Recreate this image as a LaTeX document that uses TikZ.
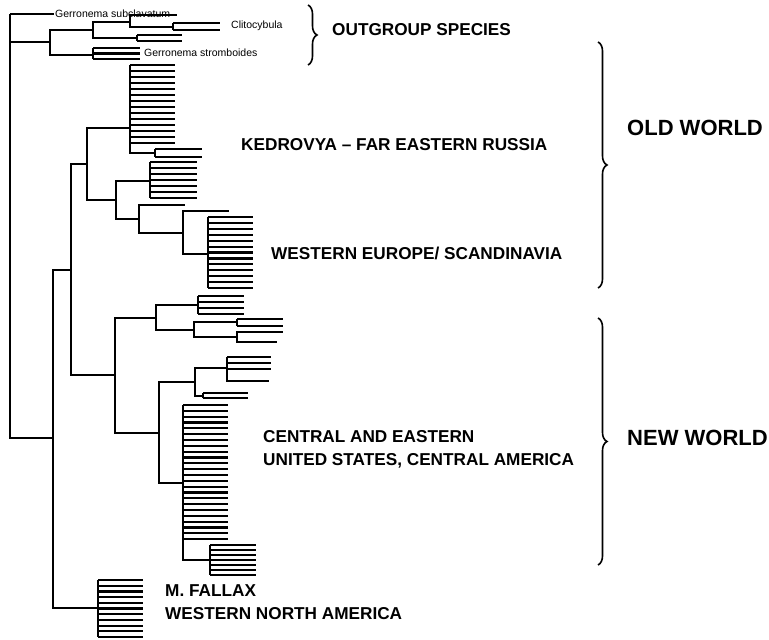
\documentclass[tikz,border=0pt]{standalone}
\usepackage{fontspec}
\setmainfont{Liberation Sans}
\usetikzlibrary{decorations.pathreplacing}

% a row of leaves hanging from one node
\newcommand{\leafrow}[5]{% node, first y, count, step, end x
  \foreach \k in {1,...,#3} {
    \pgfmathsetmacro{\yy}{#2+(\k-1)*#4}
    \draw[branch] (#1 |- 0,\yy) -- (#5,\yy);
  }
  \pgfmathsetmacro{\ylast}{#2+(#3-1)*#4}
  \draw[branch] (#1 |- 0,#2) -- (#1 |- 0,\ylast);
}

\begin{document}
\begin{tikzpicture}[x=1pt,y=-1pt,
  branch/.style={line width=2.2pt},
  taxon/.style={font=\fontsize{10.5}{12}\selectfont, anchor=west, inner sep=1pt},
  region/.style={font=\fontsize{17.2}{23}\selectfont\bfseries, anchor=west, align=left, inner sep=0pt},
  world/.style={font=\fontsize{22}{24}\selectfont\bfseries, anchor=west, inner sep=0pt},
  bracebar/.style={decorate, decoration={brace, amplitude=9pt}, line width=1.6pt}]
\useasboundingbox (0,0) rectangle (769,640);

% outgroup
\coordinate (root) at (10,14);
\coordinate (subcend) at (54,14);
\coordinate (og) at (50,42);
\coordinate (a1) at (93,30);
\coordinate (a2) at (93,55);
\coordinate (b1) at (130,22);
\coordinate (b2) at (137,38);
\coordinate (c1) at (173,27);
\coordinate (clitop) at (177,15);
\draw[branch] (root) -- (subcend);
\draw[branch] (root) |- (og);
\draw[branch] (og) |- (a1);
\draw[branch] (og) |- (a2);
\draw[branch] (a1) |- (b1);
\draw[branch] (a1) |- (b2);
\draw[branch] (b1) |- (clitop);
\draw[branch] (b1) |- (c1);
\leafrow{c1}{23}{2}{7}{220}
\leafrow{b2}{35}{2}{6}{182}
\leafrow{a2}{48}{3}{5.5}{140}
\node[taxon] (subc) at (subcend) {Gerronema subclavatum};
\node[taxon] (clito) at (230,26) {Clitocybula};
\node[taxon] (strom) at (143,53) {Gerronema stromboides};

% ingroup
\coordinate (ing) at (53,438);
\coordinate (ow) at (71,270);
\coordinate (mf) at (98,608);
\draw[branch] (root) |- (ing);
\draw[branch] (ing) |- (ow);
\draw[branch] (ing) |- (mf);
\leafrow{mf}{580}{11}{5.7}{143}

% old world
\coordinate (k0) at (87,164);
\coordinate (ked) at (130,128);
\coordinate (k1) at (116,200);
\coordinate (k2) at (155,153);
\coordinate (k3) at (150,181);
\coordinate (k4) at (139,219);
\coordinate (k4leaf) at (185,205);
\coordinate (we0) at (183,233);
\coordinate (we0leaf) at (229,211);
\coordinate (we) at (208,254);
\draw[branch] (ow) |- (k0);
\draw[branch] (k0) |- (ked);
\draw[branch] (k0) |- (k1);
\draw[branch] (ked) |- (k2);
\draw[branch] (k1) |- (k3);
\draw[branch] (k1) |- (k4);
\draw[branch] (k4) |- (k4leaf);
\draw[branch] (k4) |- (we0);
\draw[branch] (we0) |- (we0leaf);
\draw[branch] (we0) |- (we);
\leafrow{ked}{65}{14}{6}{175}
\leafrow{k2}{149}{2}{8}{202}
\leafrow{k3}{162}{7}{6}{197}
\leafrow{we}{217}{13}{5.92}{253}

% new world
\coordinate (nw) at (115,375);
\coordinate (n1) at (156,318);
\coordinate (n2) at (159,433);
\coordinate (n3) at (198,305);
\coordinate (n4) at (194,330);
\coordinate (n5) at (237,322);
\coordinate (n6) at (237,337);
\coordinate (n6a) at (283,332);
\coordinate (n6b) at (277,342);
\coordinate (n7) at (195,382);
\coordinate (n8) at (227,368);
\coordinate (n8d) at (269,381);
\coordinate (n9) at (203,396);
\coordinate (cen) at (183,483);
\coordinate (cen2) at (210,560);
\draw[branch] (ow) |- (nw);
\draw[branch] (nw) |- (n1);
\draw[branch] (nw) |- (n2);
\draw[branch] (n1) |- (n3);
\draw[branch] (n1) |- (n4);
\draw[branch] (n4) |- (n5);
\draw[branch] (n4) |- (n6);
\draw[branch] (n6) |- (n6a);
\draw[branch] (n6) |- (n6b);
\draw[branch] (n2) |- (n7);
\draw[branch] (n2) |- (cen);
\draw[branch] (n7) |- (n8);
\draw[branch] (n7) |- (n9);
\draw[branch] (n8) |- (n8d);
\draw[branch] (cen) |- (cen2);
\leafrow{n3}{296}{4}{6}{244}
\leafrow{n5}{319}{2}{7}{283}
\leafrow{n8}{357}{3}{6}{271}
\leafrow{n9}{393}{2}{5}{248}
\leafrow{cen}{405}{24}{5.83}{228}
\leafrow{cen2}{545}{7}{5}{256}

% group labels
\node[region] (outlab) at (332,30) {OUTGROUP SPECIES};
\node[region] (kedlab) at (241,145) {KEDROVYA -- FAR EASTERN RUSSIA};
\node[region] (welab) at (271,253) {WESTERN EUROPE/ SCANDINAVIA};
\node[region] (cenlab) at (263,449) {CENTRAL AND EASTERN\\UNITED STATES, CENTRAL AMERICA};
\node[region] (mflab) at (165,602) {M. FALLAX\\WESTERN NORTH AMERICA};
\node[world] (oldlab) at (627,128) {OLD WORLD};
\node[world] (newlab) at (627,438) {NEW WORLD};

% brackets
\coordinate (ogtop) at (308,5);
\coordinate (ogbot) at (308,65);
\coordinate (owtop) at (598,42);
\coordinate (owbot) at (598,288);
\coordinate (nwtop) at (598,318);
\coordinate (nwbot) at (598,565);
\draw[bracebar] (ogtop) -- (ogbot);
\draw[bracebar] (owtop) -- (owbot);
\draw[bracebar] (nwtop) -- (nwbot);
\end{tikzpicture}
\end{document}
